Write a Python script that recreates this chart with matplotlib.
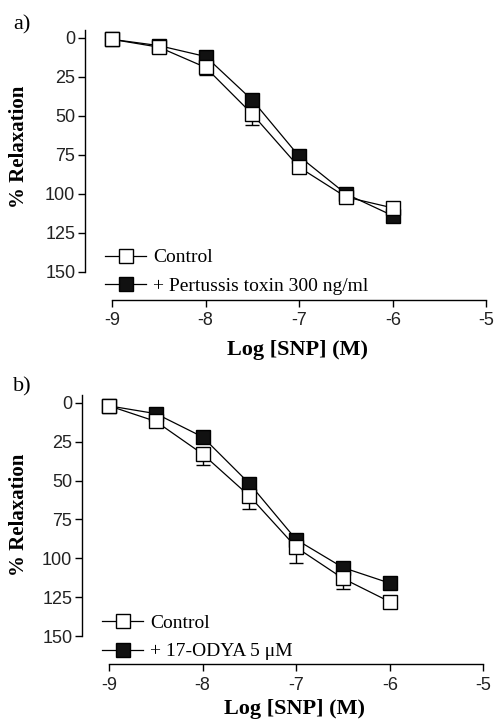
import matplotlib
matplotlib.use("Agg")
import matplotlib.pyplot as plt
from matplotlib.lines import Line2D

plt.rcParams['axes.unicode_minus'] = False
plt.rcParams['font.family'] = ['Liberation Sans', 'DejaVu Sans']

# log concentration of SNP (M)
log_snp = [-9, -8.5, -8, -7.5, -7, -6.5, -6]

# panel a: control vs pertussis toxin
ctrl_a = [1, 6, 19, 49, 83, 102, 109]
ctrl_a_err = [1, 1, 5, 7, 2, 2, 2]
ptx_a = [1, 5, 12, 40, 76, 100, 114]
ptx_a_err = [0, 0, 0, 0, 0, 0, 0]

# panel b: control vs 17-ODYA
ctrl_b = [2, 12, 33, 60, 93, 113, 128]
ctrl_b_err = [0, 1, 7, 8, 10, 7, 4]
odya_b = [2, 7, 22, 52, 88, 106, 116]
odya_b_err = [0, 0, 0, 0, 0, 0, 0]

yticks = [0, 25, 50, 75, 100, 125, 150]
xticks = [-9, -8, -7, -6, -5]

W, H = 497, 724
fig = plt.figure(figsize=(W / 100, H / 100), dpi=100)

serif = ['Liberation Serif', 'DejaVu Serif']
XMIN, XMAX = -9.29, -4.95


def draw_panel(ax, ctrl, ctrl_err, treat, treat_err, treat_label, leg_y, ylab_x, ylab_y, xlab_y):
    style = dict(color='black', marker='s', markersize=10, markeredgecolor='black',
                 markeredgewidth=1.0, linewidth=0.9, capsize=5, elinewidth=1.0, capthick=1.5)
    ax.errorbar(log_snp, treat, yerr=[[0] * len(treat_err), treat_err],
                markerfacecolor='#111111', zorder=2, **style)
    ax.errorbar(log_snp, ctrl, yerr=[[0] * len(ctrl_err), ctrl_err],
                markerfacecolor='white', zorder=3, **style)

    ax.set_xlim(XMIN, XMAX)
    ax.set_ylim(168, -5)
    ax.spines['top'].set_visible(False)
    ax.spines['right'].set_visible(False)
    ax.spines['left'].set_bounds(-5, 150)
    ax.spines['bottom'].set_bounds(-9, -5)
    for s in ('left', 'bottom'):
        ax.spines[s].set_linewidth(1.0)
    ax.set_yticks(yticks)
    ax.set_xticks(xticks)
    ax.tick_params(direction='out', length=5, width=1.0, labelsize=13, colors='black',
                   labelcolor='#222222')
    ax.tick_params(axis='x', pad=4)
    ax.tick_params(axis='y', pad=2)

    ax.set_xlabel('Log [SNP] (M)', fontsize=16, fontweight='bold', family=serif)
    ax.xaxis.set_label_coords((-7 - XMIN) / (XMAX - XMIN) - 0.005, xlab_y)
    ax.set_ylabel('% Relaxation', fontsize=15, fontweight='bold', family=serif)
    ax.yaxis.set_label_coords(ylab_x, ylab_y)

    handles = [
        Line2D([], [], color='black', lw=0.9, marker='s', markersize=10,
               markerfacecolor='white', markeredgecolor='black', markeredgewidth=1.0),
        Line2D([], [], color='black', lw=0.9, marker='s', markersize=10,
               markerfacecolor='#111111', markeredgecolor='black', markeredgewidth=1.0),
    ]
    ax.legend(handles, ['Control', treat_label], loc='upper left', bbox_to_anchor=(0.05, leg_y),
              frameon=False, borderpad=0, borderaxespad=0, handlelength=2.1,
              handletextpad=0.35, labelspacing=0.55, prop={'family': serif, 'size': 14})


# panel a
ax_a = fig.add_axes([85 / W, 1 - 300 / H, 406 / W, 270 / H])
draw_panel(ax_a, ctrl_a, ctrl_a_err, ptx_a, ptx_a_err, '+ Pertussis toxin 300 ng/ml',
           0.19, -0.138, 0.566, -0.15)
fig.text(13 / W, 1 - 25 / H, 'a)', fontsize=16, family=serif, va='center', ha='left')

# panel b
ax_b = fig.add_axes([82 / W, 1 - 664 / H, 406 / W, 269 / H])
draw_panel(ax_b, ctrl_b, ctrl_b_err, odya_b, odya_b_err, '+ 17-ODYA 5 μM',
           0.184, -0.13, 0.556, -0.13)
fig.text(13 / W, 1 - 387 / H, 'b)', fontsize=16, family=serif, va='center', ha='left')

fig.savefig('out.png', dpi=100)
